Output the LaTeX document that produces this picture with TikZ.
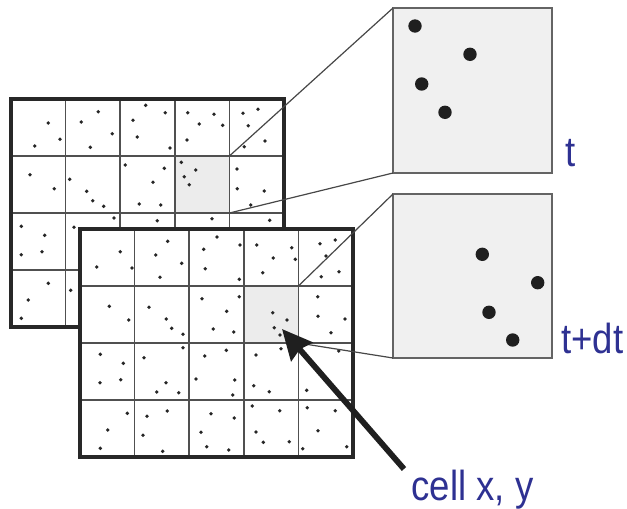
\documentclass[tikz,border=0pt]{standalone}
\usepackage{fontspec}
\newfontfamily\labfont[FakeStretch=0.87]{Liberation Sans}
\usetikzlibrary{arrows.meta}
\definecolor{labblue}{RGB}{46,49,146}
\definecolor{gridline}{RGB}{80,80,80}
\definecolor{gridborder}{RGB}{40,40,40}
\definecolor{cellfill}{RGB}{236,236,236}
\definecolor{boxfill}{RGB}{240,240,240}
\definecolor{boxline}{RGB}{100,100,100}
\begin{document}
\begin{tikzpicture}[x=1pt,y=-1pt,
  gridlines/.style={draw=gridline, line width=1.6pt},
  gridframe/.style={draw=gridborder, line width=3.2pt},
  hicell/.style={fill=cellfill, draw=none, minimum width=54.6pt, minimum height=57pt, inner sep=0pt, outer sep=0pt},
  zoombox/.style={draw=boxline, fill=boxfill, line width=1.4pt, minimum width=159pt, minimum height=165pt, inner sep=0pt, outer sep=0pt},
  connector/.style={draw=black!72, line width=1.2pt},
  smalldot/.style={fill=black!85},
  bigdot/.style={fill=black!88},
  lab/.style={text=labblue, font=\labfont\fontsize{42}{42}\selectfont, anchor=base west, inner sep=0pt},
  bigarrow/.style={draw=black!88, line width=5.8pt, -{Stealth[length=30pt,width=28pt,inset=3pt]}}
]
\useasboundingbox (0,0) rectangle (627,509);

% ---------- zoom boxes ----------
\node[zoombox] (boxT) at (472.5,90.5) {};
\node[zoombox, minimum height=164pt] (boxB) at (472.5,276) {};
\foreach \x/\y in {415/26,470/54.3,421.7/84,445/112.3}
  \fill[bigdot] (\x,\y) circle (6.7);
\foreach \x/\y in {482.3/254.3,537.7/282.7,489/312.3,512.7/340}
  \fill[bigdot] (\x,\y) circle (6.7);

% ---------- back grid (time t) ----------
\begin{scope}[shift={(11,99)}]
  \fill[white] (0,0) rectangle (273,228);
  \node[hicell] (cellB) at (191.1,85.5) {};
  \foreach \k in {1,2,3,4} \draw[gridlines] (54.6*\k,0) -- (54.6*\k,228);
  \foreach \k in {1,2,3} \draw[gridlines] (0,57*\k) -- (273,57*\k);
  \draw[gridframe] (0,0) rectangle (273,228);
\end{scope}
\foreach \x/\y in {48.3/123,60/139.3,34.7/146,98.3/111.7,81.3/122,112.3/133.7,90.3/147.3,
  145.7/105.3,165.3/112.7,133/120.3,137.3/137,170/148,187.7/112.7,214/114.3,199.3/124,
  222.7/125.3,187/140,243/113.3,258/109.3,248.3/125.7,244.3/146.7,265/141,
  30/174.7,54.3/188.7,69.7/179.3,86.7/191.3,92.7/200.7,103.7/206.3,125.3/165,164.3/168.3,
  153/182.3,139.3/204,160.7/205,181.3/162.3,195.7/170,184.3/176.7,189.3/184.7,
  237/169,237.3/188.7,264.3/191,250.7/205,
  21.3/226.3,44.7/235.3,42/251.7,21.3/254.7,74/227.3,114/218,157.3/220.7,212/218.7,269.7/220.3,
  48.3/283.3,28.3/300,21.3/318.3,70.7/290.3}
  \fill[smalldot] (\x,\y) circle (1.9);
\draw[connector] (cellB.north east) -- (boxT.north west);
\draw[connector] (cellB.south east) -- (boxT.south west);

% ---------- front grid (time t+dt) ----------
\begin{scope}[shift={(80,229)}]
  \fill[white] (0,0) rectangle (273,228);
  \node[hicell] (cellF) at (191.1,85.5) {};
  \foreach \k in {1,2,3,4} \draw[gridlines] (54.6*\k,0) -- (54.6*\k,228);
  \foreach \k in {1,2,3} \draw[gridlines] (0,57*\k) -- (273,57*\k);
  \draw[gridframe] (0,0) rectangle (273,228);
\end{scope}
\foreach \x/\y in {120.3/251.7,96.7/267,132/268,167.7/241.3,155.7/255,181.7/263.3,160/277.3,
  217/237,240/245,203.7/249.3,205.3/268.7,239.3/279.3,256.7/245,291.7/247.7,273.3/258,
  295.3/259.3,262.7/272.7,320/243.7,335.3/240,326/256,339/271.7,321.3/276.7,
  109.3/306.3,128.7/320,149/307.3,166.3/319,171.7/328.3,183/334.3,202/298.7,239.3/296.7,
  226.7/311.3,213.3/329,233.7/332,272.7/312.7,287/320,274.3/327.7,280/335,
  317.7/296.7,318/316.3,345/319,331/332.7,
  100.3/354.3,123.3/363.3,120.7/379.7,100/382.7,144/357.7,183/347.7,166/382.7,156.7/392,
  178.7/392.7,204.7/356,226.3/350.3,196/379,234.7/380,232.7/395,256/355,281/348.7,
  253.7/385.7,269.3/391.7,338.7/351,306.7/390.3,
  127.3/413.3,107.7/430,100.3/448.3,147/416.3,167.3/411,143/435.3,162.7/451.3,
  211/413.7,234.3/418,201/432.3,206.7/446.7,228.7/450,252.3/406,279.7/410.7,256/432,
  263.3/442.3,289.3/441.7,307.3/407.7,335.3/410.7,318/430.7,302.7/448.7,346.7/446.7}
  \fill[smalldot] (\x,\y) circle (1.9);
\draw[connector] (cellF.north east) -- (boxB.north west);
\draw[connector] (cellF.south east) -- (boxB.south west);

% ---------- labels ----------
\node[lab] (labT) at (565.5,166) {t};
\node[lab] (labTdt) at (561,353.5) {t+dt};
\node[lab] (labCell) at (411.5,500) {cell x, y};

% ---------- arrow ----------
\coordinate (arrowtail) at (404,469);
\coordinate (arrowtip) at (282,329);
\draw[bigarrow] (arrowtail) -- (arrowtip);
\end{tikzpicture}
\end{document}
